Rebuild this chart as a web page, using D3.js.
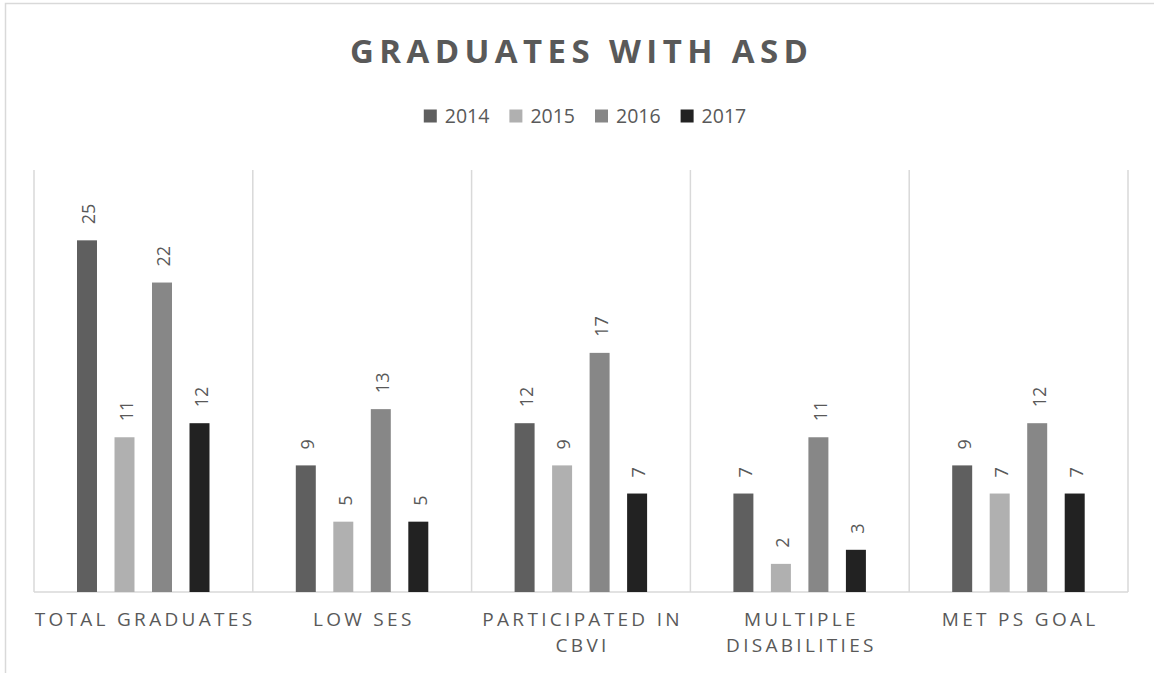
<!DOCTYPE html>
<html>
<head>
<meta charset="utf-8">
<script src="https://cdn.jsdelivr.net/npm/d3@7"></script>
<style>
  body { margin: 0; background: #fff; }
  svg { display: block; font-family: "Open Sans", sans-serif; }
</style>
</head>
<body>
<div class="wrapper"></div>
<script>
width = 1154;
height = 673;

categories = ["TOTAL GRADUATES", "LOW SES", "PARTICIPATED IN\nCBVI", "MULTIPLE\nDISABILITIES", "MET PS GOAL"];
years = ["2014", "2015", "2016", "2017"];
colors = ["#5f5f5f", "#b0b0b0", "#878787", "#222222"];

v2014 = [25, 9, 12, 7, 9];
v2015 = [11, 5, 9, 2, 7];
v2016 = [22, 13, 17, 11, 12];
v2017 = [12, 5, 7, 3, 7];
seriesValues = [v2014, v2015, v2016, v2017];

textColor = "#595959";
gridColor = "#d9d9d9";

plot = { left: 34, right: 1128, top: 170, bottom: 592 };

scaleX = d3.scaleBand().domain(categories).range([plot.left, plot.right]);
scaleSub = d3.scaleBand().domain(years).range([43, 43 + 132.5]).paddingInner(0.467);
scaleY = d3.scaleLinear().domain([0, 30]).range([plot.bottom, plot.top]);

svg = d3.select(".wrapper")
  .append("svg")
  .attr("width", width)
  .attr("height", height);

// outer chart frame (only top/left edges fall inside the picture)
svg.append("rect")
  .attr("x", 5.5).attr("y", 3.5)
  .attr("width", width + 50).attr("height", height + 50)
  .attr("fill", "none")
  .attr("stroke", gridColor)
  .attr("stroke-width", 1.5);

// title
svg.append("text")
  .attr("x", 579).attr("y", 63)
  .attr("text-anchor", "middle")
  .attr("font-size", 33)
  .attr("font-weight", "bold")
  .attr("fill", textColor)
  .attr("textLength", 458)
  .attr("lengthAdjust", "spacing")
  .text("GRADUATES WITH ASD");

// legend
var legend = svg.append("g").attr("class", "legend");
var items = legend.selectAll("g")
  .data(years)
  .enter().append("g");
items.append("rect")
  .attr("width", 13).attr("height", 13)
  .attr("y", -6.5)
  .attr("fill", function (d, i) { return colors[i]; });
items.append("text")
  .attr("x", 21)
  .attr("dy", "0.35em")
  .attr("font-size", 19.5)
  .attr("fill", textColor)
  .text(function (d) { return d; });
var lx = 0;
items.each(function () {
  var w = this.getBBox().width;
  d3.select(this).attr("transform", "translate(" + lx + ",0)");
  lx += w + 20;
});
lx -= 20;
legend.attr("transform", "translate(" + (585 - lx / 2) + ",116)");

// vertical gridlines
var edges = categories.map(function (c) { return scaleX(c); }).concat([plot.right]);
svg.append("g").selectAll("line")
  .data(edges)
  .enter().append("line")
  .attr("x1", function (d) { return d; })
  .attr("x2", function (d) { return d; })
  .attr("y1", plot.top).attr("y2", plot.bottom)
  .attr("stroke", gridColor)
  .attr("stroke-width", 1.5);

// baseline
svg.append("line")
  .attr("x1", plot.left).attr("x2", plot.right)
  .attr("y1", plot.bottom).attr("y2", plot.bottom)
  .attr("stroke", gridColor)
  .attr("stroke-width", 1.5);

// bars
var groups = svg.selectAll(".series")
  .data(years)
  .enter().append("g")
  .classed("series", true)
  .attr("fill", function (d, i) { return colors[i]; });

groups.selectAll("rect")
  .data(function (y, i) { return seriesValues[i].map(function (v, j) { return { year: y, cat: categories[j], value: v }; }); })
  .enter().append("rect")
  .attr("x", function (d) { return scaleX(d.cat) + scaleSub(d.year); })
  .attr("width", scaleSub.bandwidth())
  .attr("y", function (d) { return scaleY(d.value); })
  .attr("height", function (d) { return plot.bottom - scaleY(d.value); });

// value labels
groups.selectAll("text")
  .data(function (y, i) { return seriesValues[i].map(function (v, j) { return { year: y, cat: categories[j], value: v }; }); })
  .enter().append("text")
  .attr("transform", function (d) {
    var cx = scaleX(d.cat) + scaleSub(d.year) + scaleSub.bandwidth() / 2 + 2;
    return "translate(" + cx + "," + (scaleY(d.value) - 16) + ") rotate(-90)";
  })
  .attr("dy", "0.35em")
  .attr("font-size", 18)
  .attr("fill", textColor)
  .text(function (d) { return d.value; });

// category labels
var labels = svg.append("g").selectAll("text")
  .data(categories)
  .enter().append("text")
  .attr("text-anchor", "middle")
  .attr("font-size", 19)
  .attr("letter-spacing", 3.3)
  .attr("fill", textColor);
labels.selectAll("tspan")
  .data(function (c) { return c.split("\n").map(function (s) { return { c: c, s: s }; }); })
  .enter().append("tspan")
  .attr("x", function (d) { return scaleX(d.c) + scaleX.bandwidth() / 2 + 1.6; })
  .attr("y", function (d, i) { return 626 + i * 26; })
  .text(function (d) { return d.s; });
</script>
</body>
</html>
